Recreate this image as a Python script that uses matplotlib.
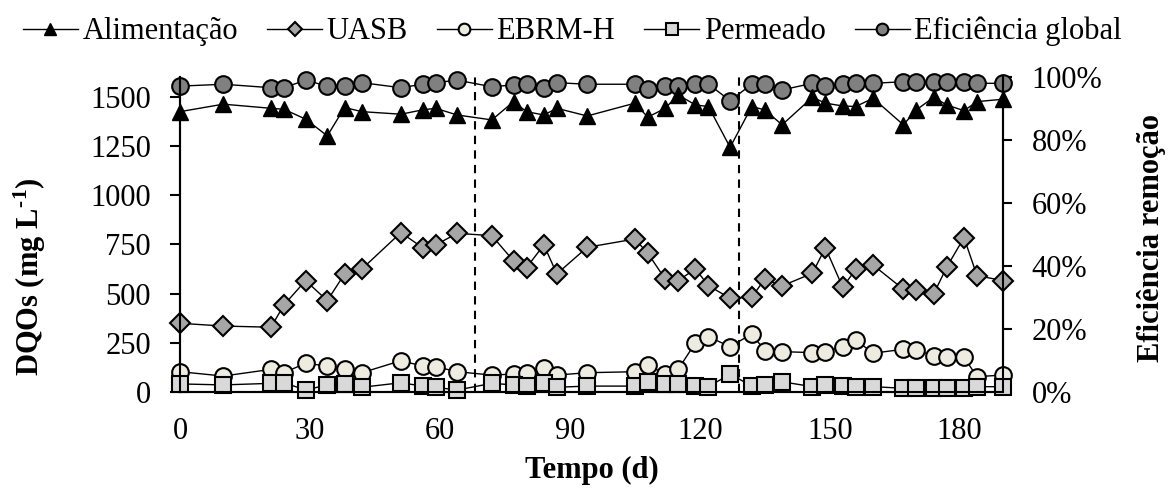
import matplotlib
matplotlib.use('Agg')
import matplotlib.pyplot as plt
from matplotlib.ticker import FuncFormatter, FixedLocator

# ---------------- data ----------------
days = [0, 10, 21, 24, 29, 34, 38, 42, 51, 56, 59,
        64, 72, 77, 80, 84, 87, 94, 105, 108, 112, 115, 119, 122, 127,
        132, 135, 139, 146, 149, 153, 156, 160, 167, 170, 174, 177, 181, 184, 190]

alimentacao = [1424, 1462, 1441, 1436, 1386, 1301, 1445, 1424, 1411, 1433, 1441,
               1407, 1382, 1475, 1424, 1407, 1441, 1402, 1467, 1396, 1441, 1509, 1458, 1450, 1243,
               1450, 1433, 1357, 1497, 1467, 1453, 1450, 1492, 1357, 1433, 1497, 1458, 1429, 1475, 1487]

uasb = [349, 335, 329, 442, 566, 464, 600, 625, 810, 733, 747,
        806, 794, 666, 632, 747, 600, 735, 777, 705, 574, 566, 625, 540, 476,
        481, 574, 539, 603, 733, 532, 623, 645, 522, 518, 498, 634, 784, 591, 566]

ebrmh = [103, 81, 115, 98, 146, 132, 117, 98, 159, 132, 129,
         103, 86, 91, 98, 120, 86, 98, 103, 137, 91, 115, 250, 281, 230,
         295, 210, 205, 200, 205, 230, 264, 197, 217, 213, 184, 179, 176, 78, 86]

permeado = [41, 36, 44, 47, 10, 36, 41, 24, 47, 30, 24,
            10, 44, 36, 30, 44, 24, 30, 30, 52, 41, 41, 30, 27, 91,
            30, 36, 52, 27, 36, 30, 27, 27, 19, 19, 19, 19, 19, 27, 27]

eficiencia = [0.971, 0.977, 0.966, 0.966, 0.990, 0.971, 0.971, 0.982, 0.966, 0.977, 0.982,
              0.990, 0.969, 0.975, 0.977, 0.966, 0.982, 0.977, 0.977, 0.961, 0.971, 0.971, 0.977, 0.977, 0.925,
              0.977, 0.977, 0.959, 0.980, 0.971, 0.977, 0.980, 0.980, 0.985, 0.985, 0.985, 0.985, 0.985, 0.980, 0.980]

phase_days = [68, 129]
x_ticks = [0, 30, 60, 90, 120, 150, 180]
y_ticks = [0, 250, 500, 750, 1000, 1250, 1500]
eff_ticks = [0.0, 0.2, 0.4, 0.6, 0.8, 1.0]

series_labels = ['Alimentação', 'UASB', 'EBRM-H', 'Permeado', 'Eficiência global']

# ---------------- style ----------------
plt.rcParams['font.family'] = ['Liberation Serif', 'DejaVu Serif']
plt.rcParams['mathtext.default'] = 'regular'
FS = 22

W, H = 1168, 498
fig = plt.figure(figsize=(W / 100, H / 100), dpi=100)
L, R, T, B = 180, 1003, 77, 392
ax = fig.add_axes([L / W, 1 - B / H, (R - L) / W, (B - T) / H])
ax2 = ax.twinx()
ax.set_zorder(2)
ax.patch.set_visible(False)

lw = 1.0
mew = 1.5
h_al, = ax.plot(days, alimentacao, color='black', lw=lw, marker='^', ms=12,
                mfc='black', mec='black', mew=1.0, label=series_labels[0], clip_on=False)
h_ua, = ax.plot(days, uasb, color='black', lw=lw, marker='D', ms=10,
                mfc='#a6a6a6', mec='black', mew=mew, label=series_labels[1], clip_on=False)
h_eb, = ax.plot(days, ebrmh, color='black', lw=lw, marker='o', ms=12,
                mfc='#eeece1', mec='black', mew=mew, label=series_labels[2], clip_on=False)
h_pe, = ax.plot(days, permeado, color='black', lw=lw, marker='s', ms=11.5,
                mfc='#d9d9d9', mec='black', mew=mew, label=series_labels[3], clip_on=False)
h_ef, = ax2.plot(days, eficiencia, color='black', lw=lw, marker='o', ms=12,
                 mfc='#808080', mec='black', mew=mew, label=series_labels[4], clip_on=False)

for d in phase_days:
    ax.axvline(d, color='black', lw=1.5, ls=(0, (4, 3)), zorder=1)

ax.set_xlim(0, 190)
ax.set_ylim(0, 1600)
ax2.set_ylim(0, 1.0)
ax.xaxis.set_major_locator(FixedLocator(x_ticks))
ax.yaxis.set_major_locator(FixedLocator(y_ticks))
ax2.yaxis.set_major_locator(FixedLocator(eff_ticks))
ax2.yaxis.set_major_formatter(FuncFormatter(lambda v, p: f'{int(round(v * 100))}%'))

for a in (ax, ax2):
    a.spines['top'].set_visible(False)
    for s in ('left', 'right', 'bottom'):
        a.spines[s].set_linewidth(1.5)
        a.spines[s].set_color('black')

ax.tick_params(axis='x', length=0, pad=18, labelsize=FS)
ax.tick_params(axis='y', direction='out', length=7, width=1.5, pad=14, labelsize=FS)
ax2.tick_params(axis='y', direction='out', length=6.5, width=1.5, pad=14, labelsize=FS)

fig.text(30 / W, 1 - 277 / H, 'DQOs (mg L$^{\u2010}$$^{1}$)', rotation=90, ha='center', va='center',
         fontsize=FS, fontweight='bold')
fig.text(1152 / W, 1 - 238 / H, 'Eficiência remoção', rotation=90, ha='center', va='center',
         fontsize=FS, fontweight='bold')
fig.text((L + R) / 2 / W, 1 - 470 / H, 'Tempo (d)', ha='center', va='center',
         fontsize=FS, fontweight='bold')

fig.legend([h_al, h_ua, h_eb, h_pe, h_ef], series_labels, loc='upper center',
           bbox_to_anchor=(0.49, 1.0), ncol=5, frameon=False, fontsize=FS,
           handlelength=1.8, handletextpad=0.15, columnspacing=0.95,
           markerscale=0.7, borderaxespad=0.15)

fig.savefig('out.png', dpi=100)
